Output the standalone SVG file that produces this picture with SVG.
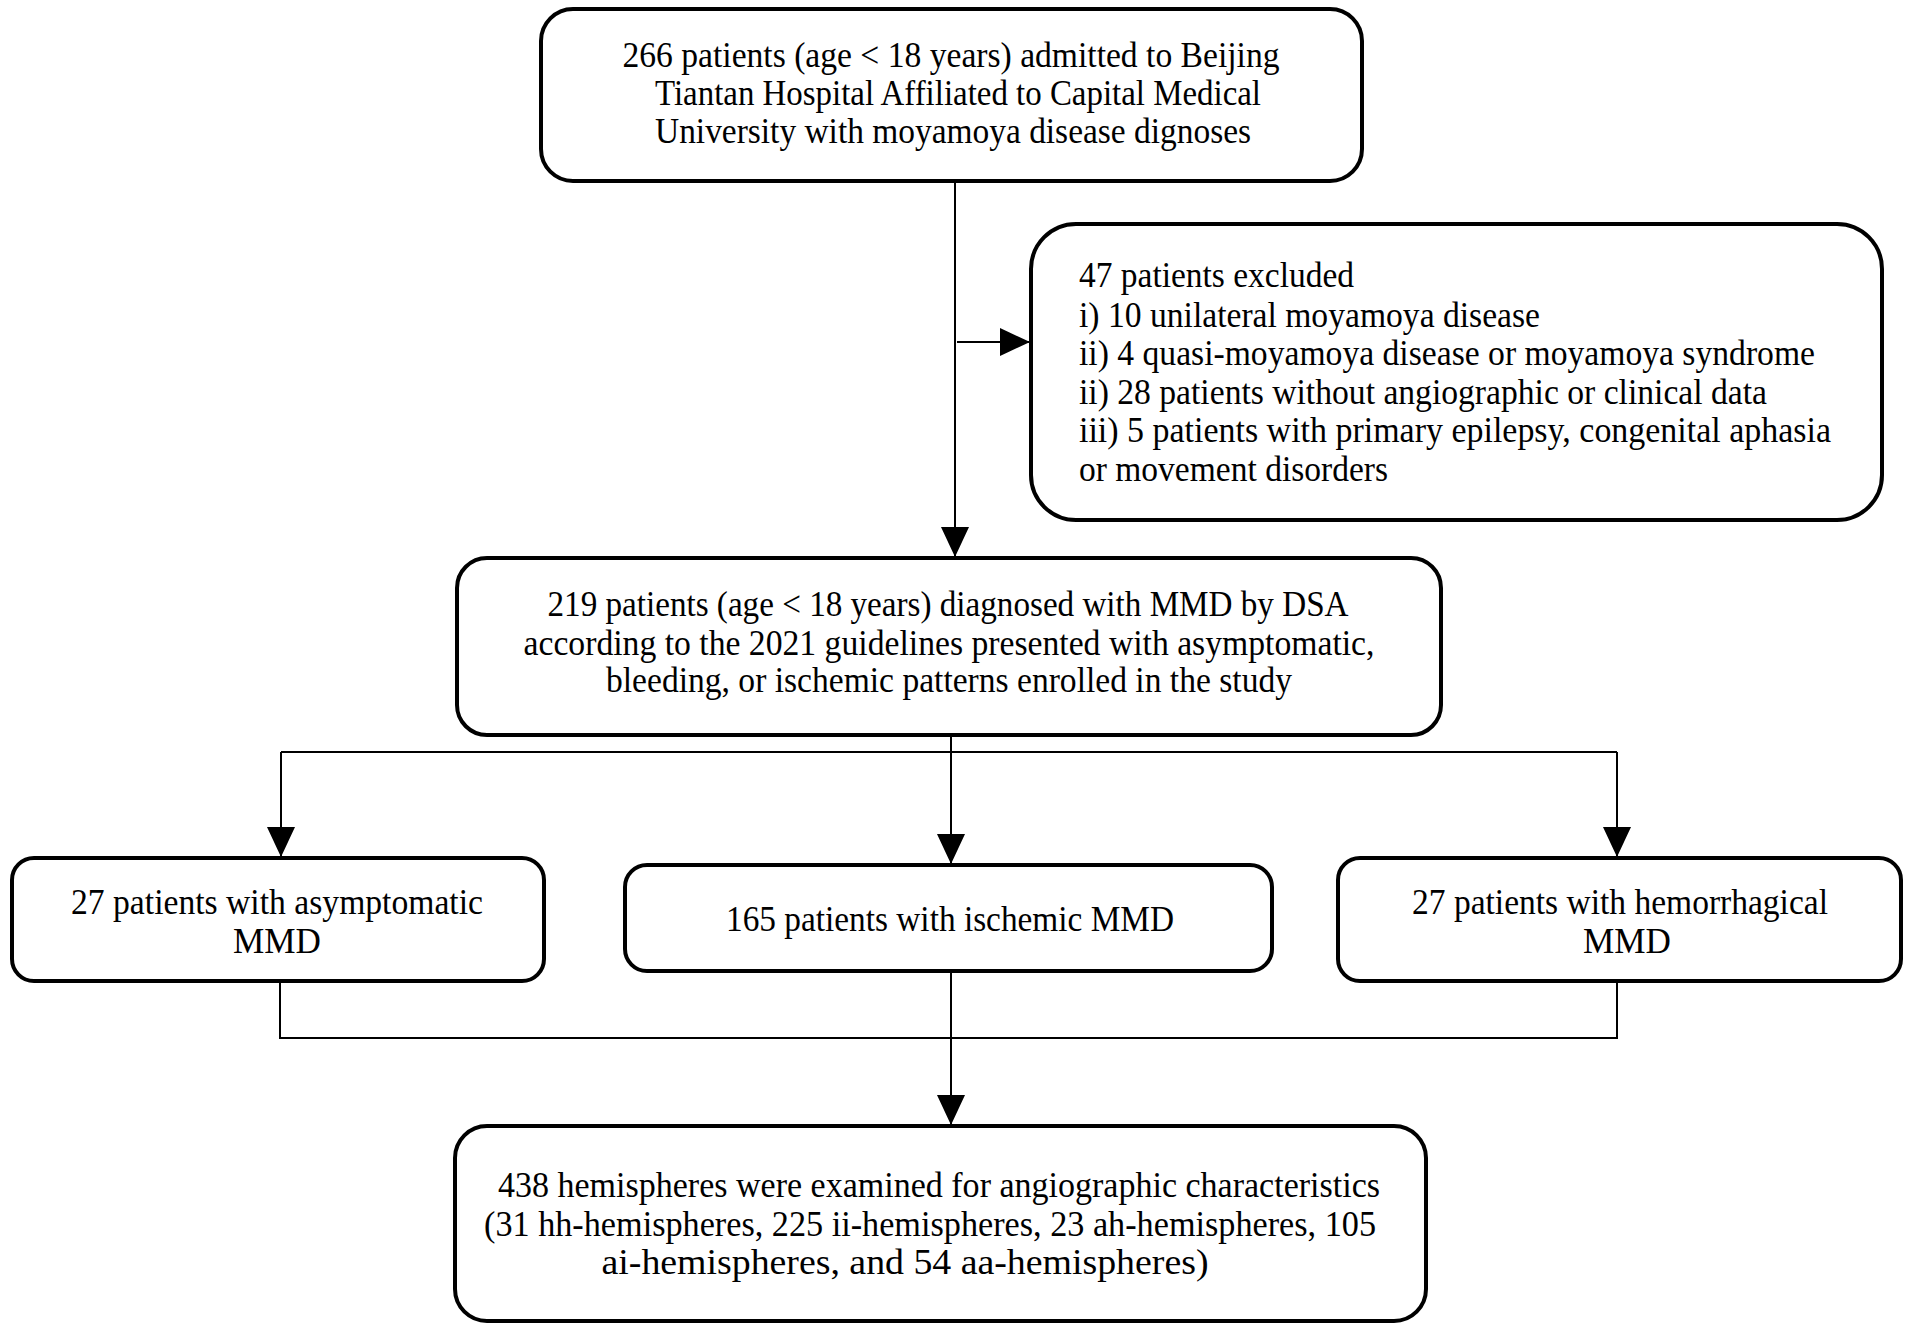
<svg xmlns="http://www.w3.org/2000/svg" width="1908" height="1331" viewBox="0 0 1908 1331">
<defs>
<marker id="arr" markerWidth="30" markerHeight="30" refX="30" refY="14" orient="auto" markerUnits="userSpaceOnUse" viewBox="0 0 30 28">
<path d="M0,0 L30,14 L0,28 Z" fill="#000"/>
</marker>
<style>
.box{fill:#fff;stroke:#000;stroke-width:4}
.t{font-family:"Liberation Serif","Times New Roman",serif;font-size:35px;fill:#000}
.c{text-anchor:middle}
.ln{fill:none;stroke:#000;stroke-width:2}
</style>
</defs>
<rect width="1908" height="1331" fill="#fff"/>
<g id="connectors">
<line class="ln" x1="955" y1="181" x2="955" y2="557" marker-end="url(#arr)"/>
<line class="ln" x1="957" y1="342" x2="1030" y2="342" marker-end="url(#arr)"/>
<polyline class="ln" points="951,735 951,752"/>
<polyline class="ln" points="281,752 1617,752"/>
<line class="ln" x1="281" y1="752" x2="281" y2="857" marker-end="url(#arr)"/>
<line class="ln" x1="951" y1="752" x2="951" y2="864" marker-end="url(#arr)"/>
<line class="ln" x1="1617" y1="752" x2="1617" y2="857" marker-end="url(#arr)"/>
<polyline class="ln" points="280,981 280,1038 1617,1038 1617,981"/>
<line class="ln" x1="951" y1="971" x2="951" y2="1125" marker-end="url(#arr)"/>
</g>
<g id="n1">
<rect class="box" x="541" y="9" width="821" height="172" rx="32"/>
<text class="t c" x="951" y="67" textLength="657" lengthAdjust="spacingAndGlyphs">266 patients (age &lt; 18 years) admitted to Beijing</text>
<text class="t c" x="958" y="105" textLength="606" lengthAdjust="spacingAndGlyphs">Tiantan Hospital Affiliated to Capital Medical</text>
<text class="t c" x="953" y="143" textLength="596" lengthAdjust="spacingAndGlyphs">University with moyamoya disease dignoses</text>
</g>
<g id="n2">
<rect class="box" x="1031" y="224" width="851" height="296" rx="45"/>
<text class="t" x="1079" y="287" textLength="275" lengthAdjust="spacingAndGlyphs">47 patients excluded</text>
<text class="t" x="1079" y="327" textLength="461" lengthAdjust="spacingAndGlyphs">i) 10 unilateral moyamoya disease</text>
<text class="t" x="1079" y="365" textLength="736" lengthAdjust="spacingAndGlyphs">ii) 4 quasi-moyamoya disease or moyamoya syndrome</text>
<text class="t" x="1079" y="404" textLength="688" lengthAdjust="spacingAndGlyphs">ii) 28 patients without angiographic or clinical data</text>
<text class="t" x="1079" y="442" textLength="752" lengthAdjust="spacingAndGlyphs">iii) 5 patients with primary epilepsy, congenital aphasia</text>
<text class="t" x="1079" y="481" textLength="309" lengthAdjust="spacingAndGlyphs">or movement disorders</text>
</g>
<g id="n3">
<rect class="box" x="457" y="558" width="984" height="177" rx="30"/>
<text class="t c" x="948" y="616" textLength="801" lengthAdjust="spacingAndGlyphs">219 patients (age &lt; 18 years) diagnosed with MMD by DSA</text>
<text class="t c" x="949" y="655" textLength="851" lengthAdjust="spacingAndGlyphs">according to the 2021 guidelines presented with asymptomatic,</text>
<text class="t c" x="949" y="692" textLength="686" lengthAdjust="spacingAndGlyphs">bleeding, or ischemic patterns enrolled in the study</text>
</g>
<g id="n4">
<rect class="box" x="12" y="858" width="532" height="123" rx="22"/>
<text class="t c" x="277" y="914" textLength="412" lengthAdjust="spacingAndGlyphs">27 patients with asymptomatic</text>
<text class="t c" x="277" y="953" textLength="88" lengthAdjust="spacingAndGlyphs">MMD</text>
</g>
<g id="n5">
<rect class="box" x="625" y="865" width="647" height="106" rx="22"/>
<text class="t c" x="950" y="931" textLength="448" lengthAdjust="spacingAndGlyphs">165 patients with ischemic MMD</text>
</g>
<g id="n6">
<rect class="box" x="1338" y="858" width="563" height="123" rx="22"/>
<text class="t c" x="1620" y="914" textLength="416" lengthAdjust="spacingAndGlyphs">27 patients with hemorrhagical</text>
<text class="t c" x="1627" y="953" textLength="88" lengthAdjust="spacingAndGlyphs">MMD</text>
</g>
<g id="n7">
<rect class="box" x="455" y="1126" width="971" height="195" rx="32"/>
<text class="t c" x="939" y="1197" textLength="882" lengthAdjust="spacingAndGlyphs">438 hemispheres were examined for angiographic characteristics</text>
<text class="t c" x="930" y="1236" textLength="892" lengthAdjust="spacingAndGlyphs">(31 hh-hemispheres, 225 ii-hemispheres, 23 ah-hemispheres, 105</text>
<text class="t c" x="905" y="1274" textLength="607" lengthAdjust="spacingAndGlyphs">ai-hemispheres, and 54 aa-hemispheres)</text>
</g>
</svg>
